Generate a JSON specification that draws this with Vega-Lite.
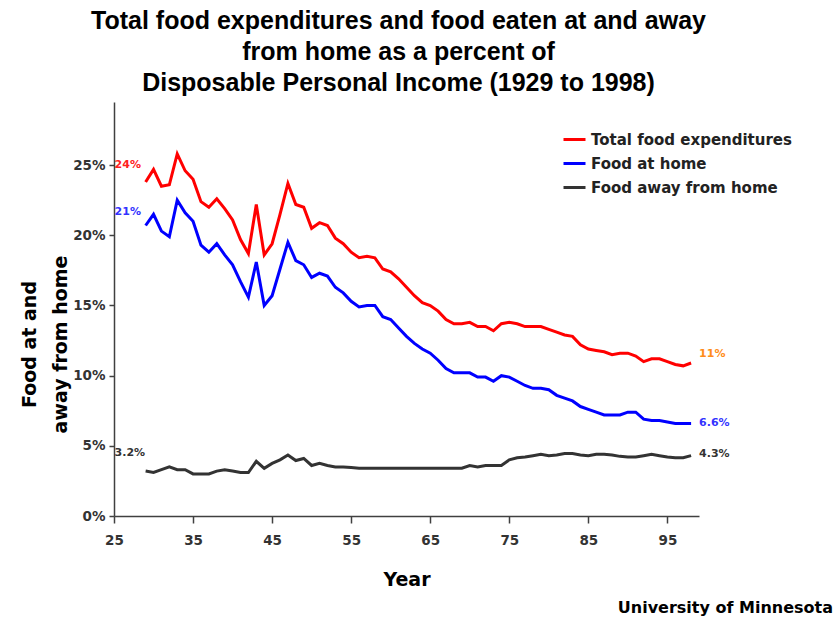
{
  "$schema": "https://vega.github.io/schema/vega-lite/v6.json",
  "width": 585,
  "height": 414,
  "autosize": "none",
  "padding": {"left": 114, "top": 102, "right": 140, "bottom": 108},
  "background": "white",
  "config": {"view": {"stroke": null}, "font": "DejaVu Sans"},
  "title": {
    "text": ["Total food expenditures and food eaten at and away", "from home as a percent of", "Disposable Personal Income (1929 to 1998)"],
    "font": "Liberation Sans",
    "fontSize": 25,
    "fontWeight": "bold",
    "color": "#000000",
    "lineHeight": 31,
    "anchor": "middle",
    "offset": 6,
    "dx": -8
  },
  "datasets": {
    "food": [
      {"year": 29, "total": 23.8, "home": 20.7, "away": 3.2},
      {"year": 30, "total": 24.7, "home": 21.5, "away": 3.1},
      {"year": 31, "total": 23.5, "home": 20.3, "away": 3.3},
      {"year": 32, "total": 23.6, "home": 19.9, "away": 3.5},
      {"year": 33, "total": 25.8, "home": 22.5, "away": 3.3},
      {"year": 34, "total": 24.6, "home": 21.6, "away": 3.3},
      {"year": 35, "total": 24.0, "home": 21.0, "away": 3.0},
      {"year": 36, "total": 22.4, "home": 19.3, "away": 3.0},
      {"year": 37, "total": 22.0, "home": 18.8, "away": 3.0},
      {"year": 38, "total": 22.6, "home": 19.4, "away": 3.2},
      {"year": 39, "total": 21.9, "home": 18.6, "away": 3.3},
      {"year": 40, "total": 21.1, "home": 17.9, "away": 3.2},
      {"year": 41, "total": 19.7, "home": 16.7, "away": 3.1},
      {"year": 42, "total": 18.7, "home": 15.6, "away": 3.1},
      {"year": 43, "total": 22.2, "home": 18.1, "away": 3.9},
      {"year": 44, "total": 18.6, "home": 15.0, "away": 3.4},
      {"year": 45, "total": 19.4, "home": 15.7, "away": 3.75},
      {"year": 46, "total": 21.5, "home": 17.6, "away": 4.0},
      {"year": 47, "total": 23.7, "home": 19.5, "away": 4.35},
      {"year": 48, "total": 22.2, "home": 18.2, "away": 3.95},
      {"year": 49, "total": 22.0, "home": 17.9, "away": 4.1},
      {"year": 50, "total": 20.5, "home": 17.0, "away": 3.6},
      {"year": 51, "total": 20.9, "home": 17.3, "away": 3.75},
      {"year": 52, "total": 20.7, "home": 17.1, "away": 3.6},
      {"year": 53, "total": 19.8, "home": 16.3, "away": 3.5},
      {"year": 54, "total": 19.4, "home": 15.9, "away": 3.5},
      {"year": 55, "total": 18.8, "home": 15.3, "away": 3.45},
      {"year": 56, "total": 18.4, "home": 14.9, "away": 3.4},
      {"year": 57, "total": 18.5, "home": 15.0, "away": 3.4},
      {"year": 58, "total": 18.4, "home": 15.0, "away": 3.4},
      {"year": 59, "total": 17.6, "home": 14.2, "away": 3.4},
      {"year": 60, "total": 17.4, "home": 14.0, "away": 3.4},
      {"year": 61, "total": 16.9, "home": 13.4, "away": 3.4},
      {"year": 62, "total": 16.3, "home": 12.8, "away": 3.4},
      {"year": 63, "total": 15.7, "home": 12.3, "away": 3.4},
      {"year": 64, "total": 15.2, "home": 11.9, "away": 3.4},
      {"year": 65, "total": 15.0, "home": 11.6, "away": 3.4},
      {"year": 66, "total": 14.6, "home": 11.1, "away": 3.4},
      {"year": 67, "total": 14.0, "home": 10.5, "away": 3.4},
      {"year": 68, "total": 13.7, "home": 10.2, "away": 3.4},
      {"year": 69, "total": 13.7, "home": 10.2, "away": 3.4},
      {"year": 70, "total": 13.8, "home": 10.2, "away": 3.6},
      {"year": 71, "total": 13.5, "home": 9.9, "away": 3.5},
      {"year": 72, "total": 13.5, "home": 9.9, "away": 3.6},
      {"year": 73, "total": 13.2, "home": 9.6, "away": 3.6},
      {"year": 74, "total": 13.7, "home": 10.0, "away": 3.6},
      {"year": 75, "total": 13.8, "home": 9.9, "away": 4.0},
      {"year": 76, "total": 13.7, "home": 9.6, "away": 4.15},
      {"year": 77, "total": 13.5, "home": 9.3, "away": 4.2},
      {"year": 78, "total": 13.5, "home": 9.1, "away": 4.3},
      {"year": 79, "total": 13.5, "home": 9.1, "away": 4.4},
      {"year": 80, "total": 13.3, "home": 9.0, "away": 4.3},
      {"year": 81, "total": 13.1, "home": 8.6, "away": 4.35},
      {"year": 82, "total": 12.9, "home": 8.4, "away": 4.45},
      {"year": 83, "total": 12.8, "home": 8.2, "away": 4.45},
      {"year": 84, "total": 12.2, "home": 7.8, "away": 4.35},
      {"year": 85, "total": 11.9, "home": 7.6, "away": 4.3},
      {"year": 86, "total": 11.8, "home": 7.4, "away": 4.4},
      {"year": 87, "total": 11.7, "home": 7.2, "away": 4.4},
      {"year": 88, "total": 11.5, "home": 7.2, "away": 4.35},
      {"year": 89, "total": 11.6, "home": 7.2, "away": 4.25},
      {"year": 90, "total": 11.6, "home": 7.4, "away": 4.2},
      {"year": 91, "total": 11.4, "home": 7.4, "away": 4.2},
      {"year": 92, "total": 11.0, "home": 6.9, "away": 4.3},
      {"year": 93, "total": 11.2, "home": 6.8, "away": 4.4},
      {"year": 94, "total": 11.2, "home": 6.8, "away": 4.3},
      {"year": 95, "total": 11.0, "home": 6.7, "away": 4.2},
      {"year": 96, "total": 10.8, "home": 6.6, "away": 4.15},
      {"year": 97, "total": 10.7, "home": 6.6, "away": 4.15},
      {"year": 98, "total": 10.9, "home": 6.6, "away": 4.3}
    ],
    "ends": [
      {"series": "total", "year": 29, "pct": 23.8, "label": "24%"},
      {"series": "home", "year": 29, "pct": 20.7, "label": "21%"},
      {"series": "away", "year": 29, "pct": 3.2, "label": "3.2%"},
      {"series": "total", "year": 98, "pct": 10.9, "label": "11%"},
      {"series": "home", "year": 98, "pct": 6.6, "label": "6.6%"},
      {"series": "away", "year": 98, "pct": 4.3, "label": "4.3%"}
    ]
  },
  "layer": [
    {
      "data": {"name": "food"},
      "transform": [{"fold": ["total", "home", "away"], "as": ["series", "pct"]}],
      "mark": {"type": "line", "strokeJoin": "miter"},
      "encoding": {
        "x": {
          "field": "year",
          "type": "quantitative",
          "scale": {"domain": [25, 99], "nice": false, "zero": false},
          "axis": {
            "values": [25, 35, 45, 55, 65, 75, 85, 95],
            "grid": false,
            "labelFlush": false,
            "tickSize": 7,
            "tickColor": "#404040",
            "tickWidth": 1.5,
            "domainColor": "#404040",
            "domainWidth": 1.5,
            "labelPadding": 10,
            "labelFont": "DejaVu Sans",
            "labelFontWeight": "bold",
            "labelFontSize": 13.5,
            "labelColor": "#333333",
            "title": "Year",
            "titleFont": "DejaVu Sans",
            "titleFontSize": 19,
            "titleFontWeight": "bold",
            "titleColor": "#000000",
            "titleBaseline": "alphabetic",
            "titleY": 69
          }
        },
        "y": {
          "field": "pct",
          "type": "quantitative",
          "scale": {"domain": [0, 29.5], "nice": false},
          "axis": {
            "values": [0, 5, 10, 15, 20, 25],
            "labelExpr": "datum.value + '%'",
            "grid": false,
            "labelFlush": false,
            "tickSize": 5,
            "tickColor": "#404040",
            "tickWidth": 1.5,
            "domainColor": "#404040",
            "domainWidth": 1.5,
            "labelPadding": 4,
            "labelFont": "DejaVu Sans",
            "labelFontWeight": "bold",
            "labelFontSize": 13.5,
            "labelColor": "#333333",
            "title": ["Food at and", "away from home"],
            "titleFont": "DejaVu Sans",
            "titleFontSize": 19,
            "titleFontWeight": "bold",
            "titleColor": "#000000",
            "titleAngle": -90,
            "titleAlign": "center",
            "titleBaseline": "alphabetic",
            "titleLineHeight": 31,
            "titleX": -79,
            "titleY": 242
          }
        },
        "color": {
          "field": "series",
          "type": "nominal",
          "scale": {"domain": ["total", "home", "away"], "range": ["#ff0000", "#0000ff", "#333333"]},
          "legend": {
            "orient": "none",
            "legendX": 448,
            "legendY": 25,
            "title": null,
            "padding": 0,
            "symbolType": "stroke",
            "symbolSize": 484,
            "symbolStrokeWidth": 3,
            "labelFont": "DejaVu Sans",
            "labelFontSize": 15,
            "labelFontWeight": "bold",
            "labelColor": "#222222",
            "labelLimit": 400,
            "labelOffset": 4,
            "rowPadding": 3,
            "labelExpr": "datum.value == 'total' ? 'Total food expenditures' : datum.value == 'home' ? 'Food at home' : 'Food away from home'"
          }
        },
        "strokeWidth": {
          "field": "series",
          "type": "nominal",
          "scale": {"domain": ["total", "home", "away"], "range": [3, 3, 2.5]},
          "legend": null
        }
      }
    },
    {
      "data": {"name": "ends"},
      "transform": [{"filter": "datum.label == '24%'"}],
      "mark": {"type": "text", "align": "left", "baseline": "middle", "dx": -31, "dy": -17, "font": "DejaVu Sans", "fontSize": 11, "fontWeight": "bold", "color": "#ff2020"},
      "encoding": {"x": {"field": "year", "type": "quantitative"}, "y": {"field": "pct", "type": "quantitative"}, "text": {"field": "label"}}
    },
    {
      "data": {"name": "ends"},
      "transform": [{"filter": "datum.label == '21%'"}],
      "mark": {"type": "text", "align": "left", "baseline": "middle", "dx": -31, "dy": -13, "font": "DejaVu Sans", "fontSize": 11, "fontWeight": "bold", "color": "#3333ff"},
      "encoding": {"x": {"field": "year", "type": "quantitative"}, "y": {"field": "pct", "type": "quantitative"}, "text": {"field": "label"}}
    },
    {
      "data": {"name": "ends"},
      "transform": [{"filter": "datum.label == '3.2%'"}],
      "mark": {"type": "text", "align": "left", "baseline": "middle", "dx": -31, "dy": -18, "font": "DejaVu Sans", "fontSize": 11, "fontWeight": "bold", "color": "#333333"},
      "encoding": {"x": {"field": "year", "type": "quantitative"}, "y": {"field": "pct", "type": "quantitative"}, "text": {"field": "label"}}
    },
    {
      "data": {"name": "ends"},
      "transform": [{"filter": "datum.label == '11%'"}],
      "mark": {"type": "text", "align": "left", "baseline": "middle", "dx": 8, "dy": -9, "font": "DejaVu Sans", "fontSize": 11, "fontWeight": "bold", "color": "#ff8c1a"},
      "encoding": {"x": {"field": "year", "type": "quantitative"}, "y": {"field": "pct", "type": "quantitative"}, "text": {"field": "label"}}
    },
    {
      "data": {"name": "ends"},
      "transform": [{"filter": "datum.label == '6.6%'"}],
      "mark": {"type": "text", "align": "left", "baseline": "middle", "dx": 8, "dy": 0, "font": "DejaVu Sans", "fontSize": 11, "fontWeight": "bold", "color": "#3333ff"},
      "encoding": {"x": {"field": "year", "type": "quantitative"}, "y": {"field": "pct", "type": "quantitative"}, "text": {"field": "label"}}
    },
    {
      "data": {"name": "ends"},
      "transform": [{"filter": "datum.label == '4.3%'"}],
      "mark": {"type": "text", "align": "left", "baseline": "middle", "dx": 8, "dy": -2, "font": "DejaVu Sans", "fontSize": 11, "fontWeight": "bold", "color": "#333333"},
      "encoding": {"x": {"field": "year", "type": "quantitative"}, "y": {"field": "pct", "type": "quantitative"}, "text": {"field": "label"}}
    },
    {
      "data": {"values": [{"caption": "University of Minnesota"}]},
      "mark": {"type": "text", "align": "right", "baseline": "alphabetic", "dx": 134, "dy": 97, "font": "DejaVu Sans", "fontSize": 16, "fontWeight": "bold", "color": "#000000"},
      "encoding": {"x": {"datum": 99, "type": "quantitative"}, "y": {"datum": 0, "type": "quantitative"}, "text": {"field": "caption"}}
    }
  ]
}
